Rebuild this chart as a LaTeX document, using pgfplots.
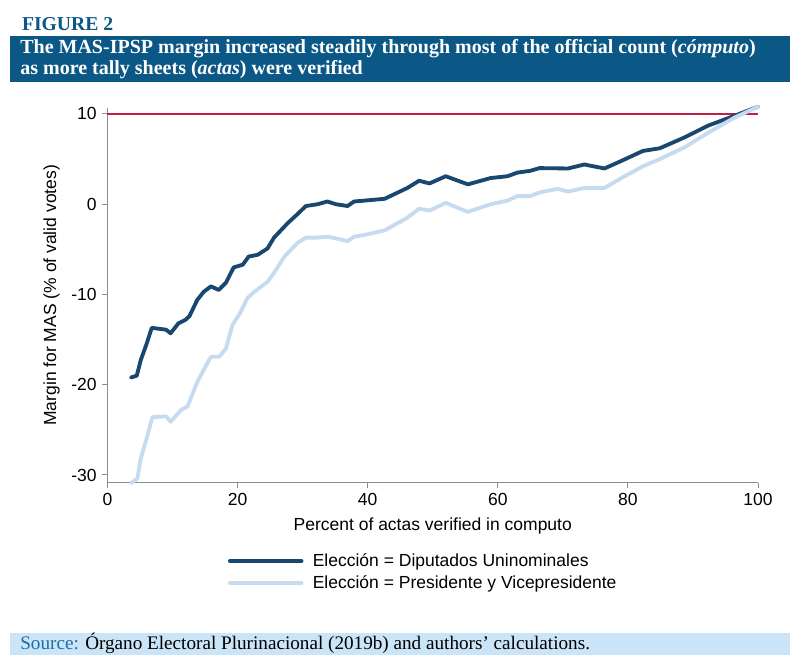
\documentclass[border=0pt]{standalone}
\usepackage{pgfplots}
\pgfplotsset{compat=1.18}
\usepackage{fontspec}
\setmainfont{Liberation Sans}
\newfontfamily\serif{Liberation Serif}
\definecolor{navy}{RGB}{26,71,111}
\definecolor{ltblue}{RGB}{198,219,239}
\definecolor{cranberry}{RGB}{196,30,70}
\definecolor{banner}{RGB}{11,87,133}
\definecolor{srcbar}{RGB}{202,229,248}
\definecolor{srcblue}{RGB}{30,110,160}
\definecolor{axgray}{RGB}{140,140,140}

\begin{document}
\begin{tikzpicture}
\path[use as bounding box] (0,0) rectangle (482.4pt,-400.2pt);
% header and banner
\node[anchor=base west, inner sep=0pt, text=banner, font=\serif\bfseries\fontsize{11.8}{14}\selectfont] at (13pt,-18.4pt) {FIGURE 2};
\fill[banner] (6pt,-21.6pt) rectangle (474pt,-49.4pt);
\node[anchor=base west, inner sep=0pt, text=white, font=\serif\bfseries\fontsize{12}{14}\selectfont] at (12pt,-32pt) {The MAS-IPSP margin increased steadily through most of the official count (\textit{cómputo})};
\node[anchor=base west, inner sep=0pt, text=white, font=\serif\bfseries\fontsize{12}{14}\selectfont] at (12pt,-45pt) {as more tally sheets (\textit{actas}) were verified};
% source bar
\fill[srcbar] (6pt,-379.8pt) rectangle (474pt,-393pt);
\node[anchor=base west, inner sep=0pt, font=\serif\fontsize{11.5}{13}\selectfont] at (12pt,-389.6pt) {\textcolor{srcblue}{Source:} Órgano Electoral Plurinacional (2019b) and authors’ calculations.};

\begin{axis}[
    scale only axis,
    width=390.3pt, height=224.8pt,
    at={(64.5pt,-289.6pt)}, anchor=south west,
    xmin=0, xmax=100, ymin=-30.85, ymax=10.66,
    axis x line=bottom, axis y line=left,
    axis line style={axgray, -, line width=0.6pt},
    xtick={0,20,...,100}, ytick={-30,-20,...,10},
    tick align=outside, major tick length=3pt,
    tick style={axgray, line width=0.6pt},
    /pgf/number format/assume math mode=true,
    ticklabel style={font=\fontsize{10.5}{12}\selectfont},
    label style={font=\fontsize{10.5}{12}\selectfont},
    xlabel={Percent of actas verified in computo},
    ylabel={Margin for MAS (\% of valid votes)},
    clip=false,
    legend image code/.code={\draw[#1] (0pt,0pt) -- (43pt,0pt);},
    legend cell align=left,
    legend style={at={(0.177,-0.170)}, anchor=north west, draw=none, fill=none,
        font=\fontsize{10.5}{12}\selectfont, row sep=0pt,
        /tikz/every odd column/.append style={column sep=3.6pt}},
]
\addplot[cranberry, line width=1.1pt, forget plot] coordinates {(0,10) (100,10)};
\addplot[navy, line width=2.3pt, line join=round, line cap=round] coordinates {
(3.6,-19.2) (4.5,-19.0) (5.1,-17.3) (6.0,-15.5) (6.8,-13.7) (9.0,-13.9) (9.7,-14.3)
(10.9,-13.2) (12.0,-12.8) (12.6,-12.4) (13.8,-10.6) (14.8,-9.7) (15.9,-9.1) (17.1,-9.5)
(18.2,-8.7) (19.4,-7.0) (20.8,-6.7) (21.7,-5.8) (23.1,-5.6) (24.6,-4.9) (25.6,-3.7)
(27.7,-2.1) (29.2,-1.1) (30.5,-0.2) (32.3,0.0) (33.8,0.3) (35.1,0.0) (36.9,-0.2)
(37.9,0.3) (39.5,0.4) (42.6,0.6) (46.1,1.8) (47.9,2.6) (49.5,2.3) (52.0,3.1)
(55.4,2.2) (58.9,2.9) (61.5,3.1) (63.0,3.5) (65.0,3.7) (66.4,4.0) (70.8,3.96)
(73.3,4.4) (76.4,3.96) (79.0,4.8) (82.3,5.9) (84.9,6.2) (88.7,7.4) (92.3,8.7)
(96.4,9.8) (100,10.8)
};
\addlegendentry{Elección = Diputados Uninominales}
\addplot[ltblue, line width=2.3pt, line join=round, line cap=round] coordinates {
(3.6,-30.9) (4.6,-30.4) (5.1,-28.2) (6.0,-26.0) (6.9,-23.6) (9.0,-23.5) (9.7,-24.1)
(11.3,-22.8) (12.3,-22.4) (13.8,-19.7) (14.9,-18.2) (15.9,-16.9) (17.2,-16.9) (18.2,-16.0)
(19.2,-13.4) (20.5,-11.9) (21.5,-10.4) (22.6,-9.7) (23.3,-9.3) (24.6,-8.6) (25.6,-7.6)
(27.2,-5.8) (29.2,-4.3) (30.5,-3.7) (32.3,-3.7) (33.8,-3.6) (35.9,-3.9) (36.9,-4.1)
(37.9,-3.6) (39.5,-3.4) (42.6,-2.9) (46.1,-1.5) (47.9,-0.5) (49.5,-0.7) (52.0,0.15)
(55.4,-0.85) (58.9,0.0) (61.5,0.4) (63.0,0.9) (65.0,0.9) (66.4,1.3) (69.2,1.7)
(70.8,1.4) (73.3,1.8) (76.4,1.8) (79.0,2.9) (82.3,4.2) (84.9,5.0) (88.7,6.3)
(92.3,7.9) (96.4,9.6) (100,10.8)
};
\addlegendentry{Elección = Presidente y Vicepresidente}
\end{axis}
\end{tikzpicture}
\end{document}
